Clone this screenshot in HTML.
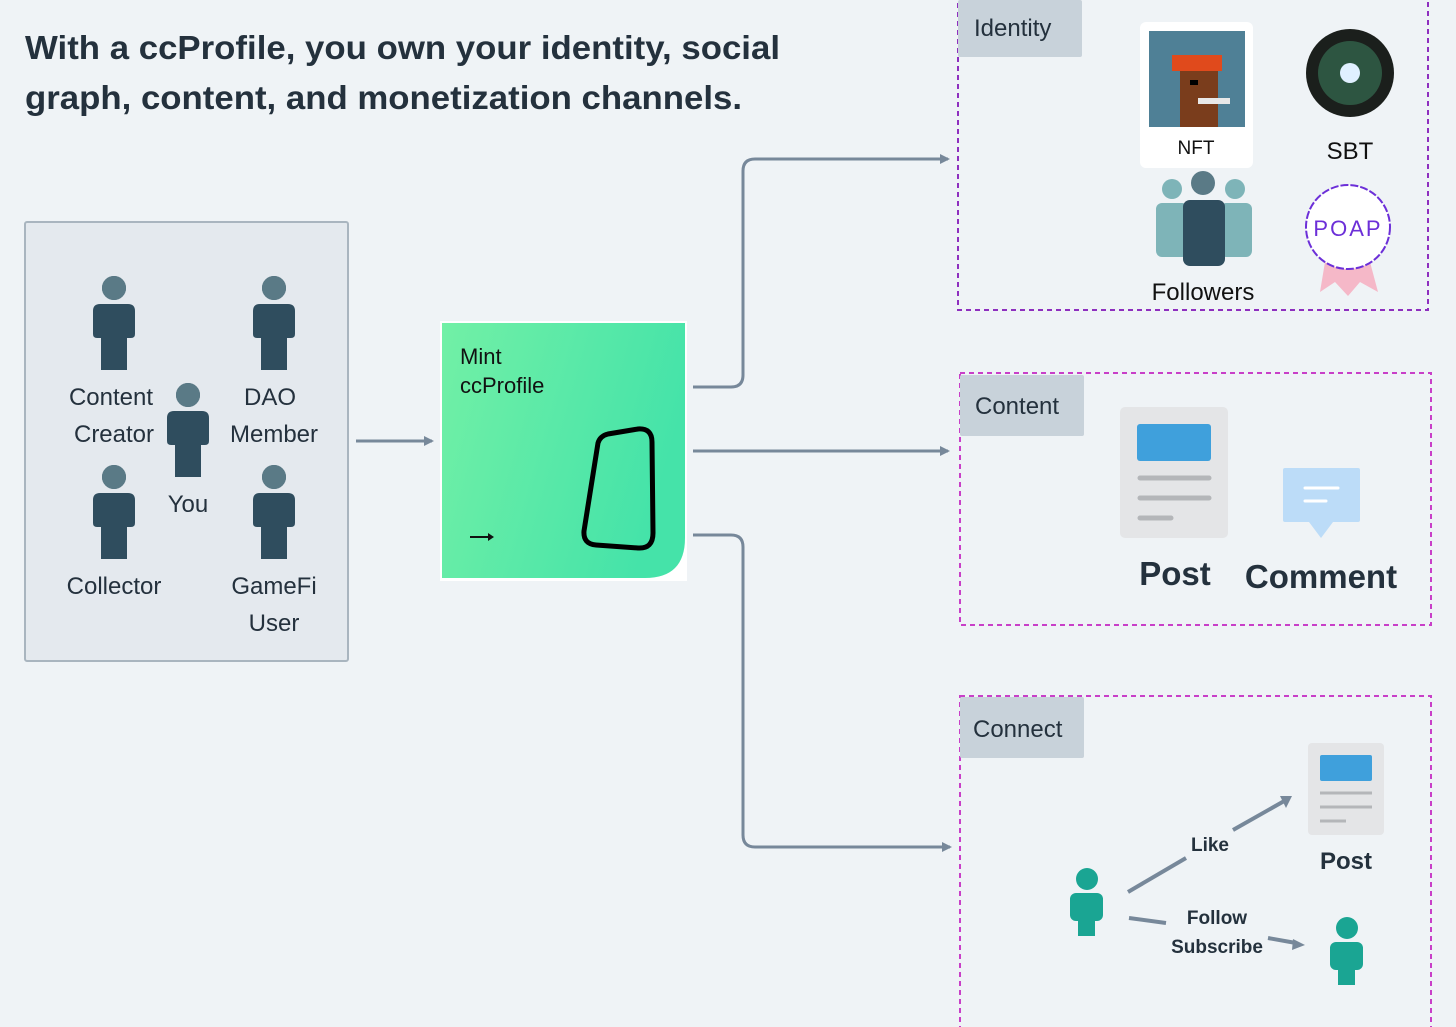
<!DOCTYPE html>
<html><head><meta charset="utf-8"><style>
html,body{margin:0;padding:0;background:#eff3f6;}
svg{display:block;font-family:"Liberation Sans",sans-serif;}
</style></head><body>
<svg width="1456" height="1027" viewBox="0 0 1456 1027" xmlns="http://www.w3.org/2000/svg">
<defs>
<linearGradient id="g" x1="0" y1="0" x2="1" y2="0.3"><stop offset="0" stop-color="#72f0a6"/><stop offset="1" stop-color="#45e3a9"/></linearGradient>
<g id="p"><circle cx="0" cy="12" r="12"/><path d="M-21,35 Q-21,28 -14,28 H14 Q21,28 21,35 V58 Q21,62 17,62 H13 V94 H-13 V62 H-17 Q-21,62 -21,58 Z"/></g>
<marker id="a" markerWidth="10" markerHeight="10" refX="8" refY="5" orient="auto" markerUnits="userSpaceOnUse"><path d="M0,0 L10,5 L0,10 Z" fill="#77889a"/></marker>
</defs>
<rect width="1456" height="1027" fill="#eff3f6"/>
<g fill="#24313d" font-weight="bold" font-size="33">
<text x="25" y="59" textLength="755" lengthAdjust="spacingAndGlyphs">With a ccProfile, you own your identity, social</text>
<text x="25" y="109" textLength="717" lengthAdjust="spacingAndGlyphs">graph, content, and monetization channels.</text>
</g>
<rect x="25" y="222" width="323" height="439" fill="#e4e9ee" stroke="#a9b5bf" stroke-width="2" rx="2"/>
<g fill="#2f4d5e">
<use href="#p" x="114" y="276"/><use href="#p" x="274" y="276"/><use href="#p" x="188" y="383"/>
<use href="#p" x="114" y="465"/><use href="#p" x="274" y="465"/>
</g>
<g fill="#5a7a86"><circle cx="114" cy="288" r="12"/><circle cx="274" cy="288" r="12"/><circle cx="188" cy="395" r="12"/><circle cx="114" cy="477" r="12"/><circle cx="274" cy="477" r="12"/></g>
<g fill="#24313d" font-size="24" text-anchor="middle">
<text x="111" y="405">Content</text><text x="114" y="442">Creator</text>
<text x="270" y="405">DAO</text><text x="274" y="442">Member</text>
<text x="188" y="512">You</text>
<text x="114" y="594">Collector</text>
<text x="274" y="594">GameFi</text><text x="274" y="631">User</text>
</g>
<line x1="356" y1="441" x2="432" y2="441" stroke="#77889a" stroke-width="3" marker-end="url(#a)"/>
<rect x="440" y="321" width="247" height="260" fill="#fff"/>
<path d="M442,323 H685 V538 Q685,578 645,578 H442 Z" fill="url(#g)"/>
<text x="460" y="364" font-size="22" fill="#111">Mint</text>
<text x="460" y="393" font-size="22" fill="#111">ccProfile</text>
<path d="M470,537 H490" stroke="#111" stroke-width="2"/><path d="M488,533 L494,537 L488,541Z" fill="#111"/>
<path d="M598,443 Q600,436 608,434 L638,429 Q652,428 652,442 L653,533 Q653,549 638,548 L596,545 Q583,544 584,531 Z" fill="none" stroke="#000" stroke-width="5"/>
<g fill="none" stroke="#77889a" stroke-width="3">
<path d="M693,387 H731 Q743,387 743,375 V171 Q743,159 755,159 H948" marker-end="url(#a)"/>
<path d="M693,451 H948" marker-end="url(#a)"/>
<path d="M693,535 H731 Q743,535 743,547 V835 Q743,847 755,847 H950" marker-end="url(#a)"/>
</g>
<rect x="958" y="-5" width="470" height="315" fill="none" stroke="#8e2fbf" stroke-width="2" stroke-dasharray="5,4"/>
<rect x="960" y="373" width="471" height="252" fill="none" stroke="#c83fc8" stroke-width="2" stroke-dasharray="5,4"/>
<rect x="960" y="696" width="471" height="340" fill="none" stroke="#c83fc8" stroke-width="2" stroke-dasharray="5,4"/>
<g fill="#c8d2da"><rect x="958" y="0" width="124" height="57" rx="2"/><rect x="960" y="375" width="124" height="61" rx="2"/><rect x="960" y="697" width="124" height="61" rx="2"/></g>
<g fill="#24313d" font-size="24"><text x="974" y="36">Identity</text><text x="975" y="414">Content</text><text x="973" y="737">Connect</text></g>
<rect x="1140" y="22" width="113" height="146" rx="6" fill="#fff"/>
<rect x="1149" y="31" width="96" height="96" fill="#4f8096"/>
<rect x="1180" y="65" width="38" height="62" fill="#7a3d1c"/><rect x="1172" y="55" width="50" height="16" fill="#e04a1c"/><rect x="1198" y="98" width="32" height="6" fill="#e8e8e8"/><rect x="1190" y="80" width="8" height="5" fill="#000"/>
<text x="1196" y="154" font-size="19" text-anchor="middle" fill="#111">NFT</text>
<circle cx="1350" cy="73" r="44" fill="#1b1f1c"/><circle cx="1350" cy="73" r="32" fill="#3a7a5a" opacity=".6"/><circle cx="1350" cy="73" r="10" fill="#e0f0ff"/>
<text x="1350" y="159" font-size="24" text-anchor="middle" fill="#111">SBT</text>
<g fill="#7eb4b8"><circle cx="1172" cy="189" r="10"/><circle cx="1235" cy="189" r="10"/><rect x="1156" y="203" width="32" height="54" rx="6"/><rect x="1220" y="203" width="32" height="54" rx="6"/></g>
<circle cx="1203" cy="183" r="12" fill="#5a7a86"/><rect x="1183" y="200" width="42" height="66" rx="7" fill="#2f4d5e"/>
<text x="1203" y="300" font-size="24" text-anchor="middle" fill="#111">Followers</text>
<path d="M1325,262 L1320,292 L1335,282 L1348,296 L1360,282 L1378,292 L1370,262Z" fill="#f5b8c8"/>
<circle cx="1348" cy="227" r="42" fill="#fff" stroke="#6c2fd8" stroke-width="2" stroke-dasharray="8,2"/>
<text x="1348" y="236" font-size="22" text-anchor="middle" fill="#6c2fd8" letter-spacing="2">POAP</text>
<rect x="1120" y="407" width="108" height="131" rx="5" fill="#e4e5e7"/>
<rect x="1137" y="424" width="74" height="37" rx="3" fill="#3fa0dc"/>
<g stroke="#b4b6b9" stroke-width="5" stroke-linecap="round"><path d="M1140,478 H1209M1140,498 H1209M1140,518 H1171"/></g>
<path d="M1285,468 H1358 Q1360,468 1360,470 V520 Q1360,522 1358,522 H1333 L1321,538 L1309,522 H1285 Q1283,522 1283,520 V470 Q1283,468 1285,468Z" fill="#bcdcf8"/>
<g stroke="#fff" stroke-width="3" stroke-linecap="round"><path d="M1305,488 H1338M1305,501 H1326"/></g>
<g fill="#24313d" font-weight="bold"><text x="1175" y="585" font-size="33" text-anchor="middle">Post</text><text x="1321" y="588" font-size="33" text-anchor="middle">Comment</text></g>
<rect x="1308" y="743" width="76" height="92" rx="4" fill="#e4e5e7"/>
<rect x="1320" y="755" width="52" height="26" rx="2" fill="#3fa0dc"/>
<g stroke="#b4b6b9" stroke-width="3"><path d="M1320,793 H1372M1320,807 H1372M1320,821 H1346"/></g>
<text x="1346" y="869" font-size="24" font-weight="bold" text-anchor="middle" fill="#24313d">Post</text>
<g fill="#1aa593"><circle cx="1087" cy="879" r="11"/><rect x="1070" y="893" width="33" height="28" rx="6"/><rect x="1078" y="915" width="17" height="21"/>
<circle cx="1347" cy="928" r="11"/><rect x="1330" y="942" width="33" height="28" rx="6"/><rect x="1338" y="964" width="17" height="21"/></g>
<g stroke="#77889a" stroke-width="4" fill="none"><path d="M1128,892 L1186,858"/><path d="M1233,830 L1286,800"/><path d="M1129,918 L1166,923"/><path d="M1268,938 L1296,943"/></g>
<path d="M1292,796 L1280,796 L1286,808Z" fill="#77889a"/><path d="M1305,945 L1293,939 L1292,950Z" fill="#77889a"/>
<g fill="#24313d" font-weight="bold" font-size="19" text-anchor="middle"><text x="1210" y="851">Like</text><text x="1217" y="924">Follow</text><text x="1217" y="953">Subscribe</text></g>
</svg>
</body></html>
